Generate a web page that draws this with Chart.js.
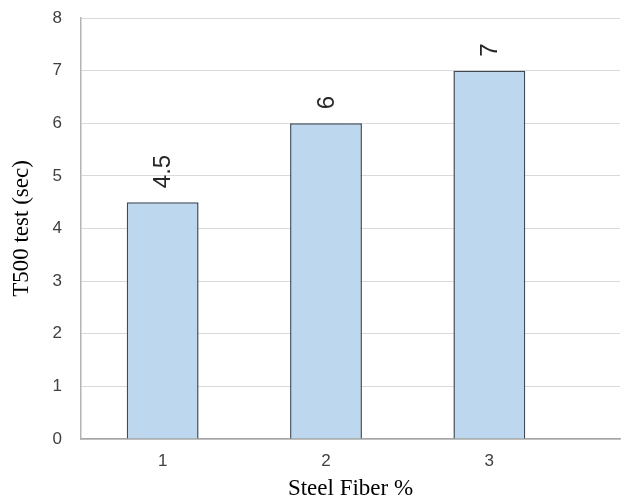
<!DOCTYPE html>
<html>
<head>
<meta charset="utf-8">
<script src="https://cdn.jsdelivr.net/npm/chart.js@4/dist/chart.umd.min.js"></script>
<style>
html,body{margin:0;padding:0;background:#fff;}
#wrap{width:637px;height:503px;position:relative;}
</style>
</head>
<body>
<div id="wrap"><canvas id="c" width="637" height="503"></canvas></div>
<script>
const categories = [1, 2, 3];
const t500Values = [4.5, 6, 7];
const dataLabels = ['4.5', '6', '7'];
const yTicks = [0, 1, 2, 3, 4, 5, 6, 7, 8];
const xTitle = 'Steel Fiber %';
const yTitle = 'T500 test (sec)';

const labelPlugin = {
  id: 'rotLabels',
  afterDatasetsDraw(chart) {
    const ctx = chart.ctx;
    const meta = chart.getDatasetMeta(0);
    ctx.save();
    ctx.font = '24px "Liberation Sans Narrow", "Liberation Sans", sans-serif';
    ctx.fillStyle = '#262626';
    ctx.textAlign = 'left';
    ctx.textBaseline = 'middle';
    meta.data.forEach((bar, i) => {
      ctx.save();
      ctx.translate(bar.x, bar.y - 14);
      ctx.rotate(-Math.PI / 2);
      ctx.fillText(dataLabels[i], 0, 1);
      ctx.restore();
    });
    ctx.restore();
  }
};

new Chart(document.getElementById('c'), {
  type: 'bar',
  data: {
    datasets: [{
      data: categories.map((c, i) => ({x: c, y: t500Values[i]})),
      backgroundColor: '#bdd7ee',
      borderColor: '#3f4a55',
      borderWidth: 1.5,
      barPercentage: 0.44,
      categoryPercentage: 1
    }]
  },
  options: {
    responsive: false,
    animation: false,
    devicePixelRatio: 1,
    layout: {padding: {top: 18, right: 17, left: 0, bottom: 0}},
    plugins: {legend: {display: false}, tooltip: {enabled: false}},
    scales: {
      x: {
        type: 'linear',
        offset: false,
        min: 0.5,
        max: 3.8,
        afterBuildTicks: s => { s.ticks = categories.map(v => ({value: v})); },
        afterFit: s => { s.height = 64; s.paddingLeft = 0; s.paddingRight = 0; },
        grid: {display: false, drawTicks: false},
        border: {display: true, color: '#a6a6a6', width: 1.5},
        ticks: {
          padding: 12,
          color: '#404040',
          font: {family: '"Liberation Sans", sans-serif', size: 17},
          callback: v => String(v)
        },
        title: {
          display: true,
          text: xTitle,
          color: '#000',
          font: {family: '"Liberation Serif", serif', size: 23},
          padding: {top: 0, bottom: 0}
        }
      },
      y: {
        min: 0,
        max: 8,
        afterBuildTicks: s => { s.ticks = yTicks.map(v => ({value: v})); },
        afterFit: s => { s.width = 81; s.paddingTop = 0; s.paddingBottom = 0; },
        grid: {color: '#d9d9d9', lineWidth: 1, drawTicks: false},
        border: {display: true, color: '#b3b3b3', width: 1.5},
        ticks: {
          padding: 19,
          color: '#404040',
          font: {family: '"Liberation Sans", sans-serif', size: 17}
        },
        title: {
          display: true,
          text: yTitle,
          color: '#000',
          font: {family: '"Liberation Serif", serif', size: 23},
          padding: {top: 8, bottom: 8}
        }
      }
    }
  },
  plugins: [labelPlugin]
});
</script>
</body>
</html>
